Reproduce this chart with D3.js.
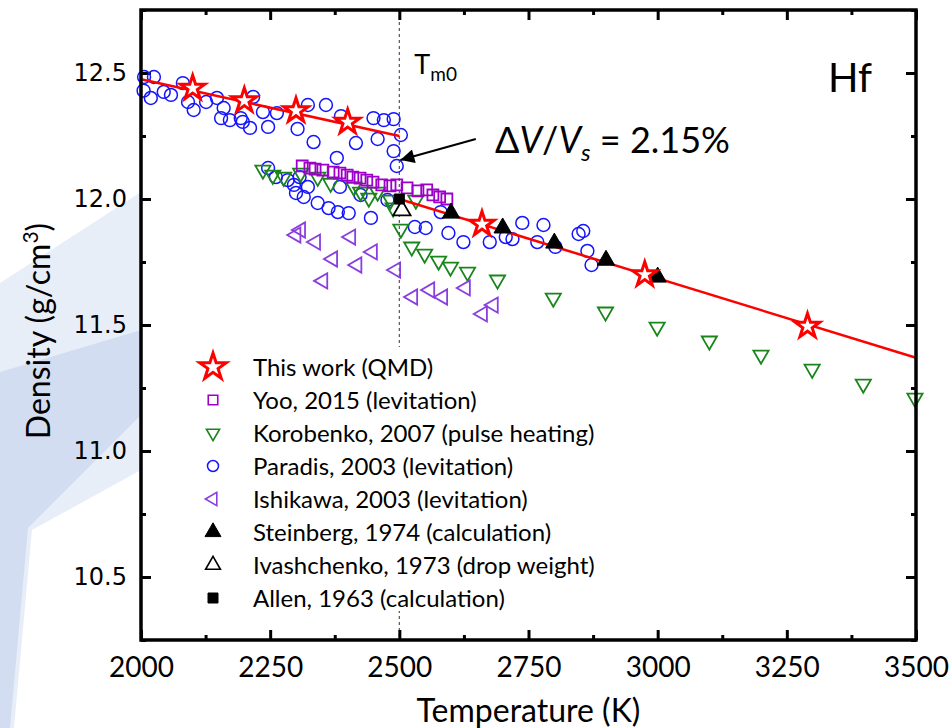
<!DOCTYPE html>
<html>
<head>
<meta charset="utf-8">
<script src="https://cdn.jsdelivr.net/npm/d3@7"></script>
<style>
  body { margin: 0; background: #fff; }
  svg { display: block; }
  .ytick text { font-family: "DejaVu Sans", sans-serif; font-size: 24px; }
  .xtick text { font-family: Lato, "Open Sans", sans-serif; font-size: 28px; }
  .lbl { font-family: Lato, "Open Sans", sans-serif; fill: #000; }
</style>
</head>
<body>
<div id="chart"></div>
<script>
// ---- data (T in K, density in g/cm3) ----
var qmdStars = [[2100, 12.44], [2200, 12.39], [2300, 12.35], [2400, 12.305],
                [2660, 11.90], [2975, 11.70], [3290, 11.495]];
var fitSolid = [[2000, 12.475], [2500, 12.25]];
var fitLiquid = [[2500, 12.0], [3500, 11.37]];

var yoo = [[2312, 12.131], [2327, 12.123], [2337, 12.119], [2352, 12.115], [2372, 12.107],
           [2385, 12.103], [2399, 12.095], [2410, 12.087], [2424, 12.083], [2437, 12.075],
           [2449, 12.067], [2466, 12.056], [2482, 12.052], [2495, 12.056], [2515, 12.044],
           [2536, 12.032], [2553, 12.036], [2565, 12.016], [2578, 12.008], [2592, 12.0]];

var korobenko = [[2236, 12.115], [2255, 12.095], [2276, 12.087], [2309, 12.103], [2342, 12.087],
                 [2367, 12.063], [2412, 12.048], [2425, 12.028], [2441, 12.004], [2458, 12.028],
                 [2483, 11.996], [2488, 11.965], [2532, 11.996], [2503, 11.881], [2524, 11.81],
                 [2549, 11.782], [2576, 11.754], [2599, 11.73], [2632, 11.71], [2690, 11.679],
                 [2798, 11.607], [2899, 11.552], [2999, 11.492], [3100, 11.437], [3200, 11.381],
                 [3299, 11.325], [3398, 11.266], [3498, 11.21]];

var paradis = [[2006, 12.484], [2025, 12.484], [2019, 12.401], [2005, 12.43], [2044, 12.425],
               [2058, 12.413], [2081, 12.46], [2091, 12.385], [2102, 12.353], [2126, 12.385],
               [2147, 12.401], [2160, 12.361], [2155, 12.321], [2172, 12.313], [2193, 12.321],
               [2197, 12.306], [2211, 12.282], [2217, 12.405], [2236, 12.345], [2246, 12.286],
               [2263, 12.341], [2303, 12.278], [2323, 12.373], [2334, 12.226], [2358, 12.373],
               [2387, 12.329], [2416, 12.222], [2450, 12.321], [2470, 12.313], [2489, 12.317],
               [2458, 12.238], [2489, 12.19], [2495, 12.131], [2503, 12.254], [2379, 12.163],
               [2246, 12.123], [2261, 12.087], [2284, 12.075], [2296, 12.056], [2307, 12.087],
               [2323, 12.048], [2300, 12.024], [2315, 12.008], [2342, 11.984], [2363, 11.964],
               [2381, 11.948], [2402, 11.944], [2445, 11.925], [2385, 12.048], [2425, 12.016],
               [2477, 11.996], [2530, 11.889], [2551, 11.885], [2595, 11.865], [2580, 11.948],
               [2624, 11.829], [2675, 11.829], [2706, 11.849], [2719, 11.841], [2738, 11.905],
               [2767, 11.829], [2779, 11.897], [2802, 11.81], [2847, 11.861], [2856, 11.873],
               [2864, 11.794], [2872, 11.738]];

var ishikawa = [[2309, 11.877], [2300, 11.857], [2338, 11.829], [2406, 11.849], [2371, 11.762],
                [2418, 11.738], [2448, 11.79], [2352, 11.675], [2493, 11.718], [2526, 11.611],
                [2559, 11.639], [2584, 11.611], [2628, 11.647], [2682, 11.579], [2661, 11.544]];

var steinberg = [[2600, 11.944], [2700, 11.885], [2800, 11.825], [2900, 11.757], [3000, 11.69]];
var ivashchenko = [[2505, 11.955]];
var allen = [[2500, 12.0]];

var xMajor = [2000, 2250, 2500, 2750, 3000, 3250, 3500];
var xMinor = [2125, 2375, 2625, 2875, 3125, 3375];
var yMajor = [10.5, 11.0, 11.5, 12.0, 12.5];
var yMinor = [10.25, 10.75, 11.25, 11.75, 12.25, 12.75];

var legendLabels = ["This work (QMD)", "Yoo, 2015 (levitation)", "Korobenko, 2007 (pulse heating)",
                    "Paradis, 2003 (levitation)", "Ishikawa, 2003 (levitation)",
                    "Steinberg, 1974 (calculation)", "Ivashchenko, 1973 (drop weight)",
                    "Allen, 1963 (calculation)"];

var tMelt = 2500;

// ---- layout ----
var W = 951, H = 728;
var margin = {top: 10, right: 35, bottom: 88, left: 141};

var svg = d3.select("#chart").append("svg")
    .attr("width", W)
    .attr("height", H);

// slide background decoration at the left
svg.append("polygon")
    .attr("points", "0,283 141,192 141,470 32,530 14,728 0,728")
    .attr("fill", "#e8eef8");
svg.append("polygon")
    .attr("points", "0,372 141,330 141,415 28,528 10,728 0,728")
    .attr("fill", "#d2ddf1");

var x = d3.scaleLinear().domain([2000, 3500]).range([margin.left, W - margin.right]);
var y = d3.scaleLinear().domain([10.25, 12.75]).range([H - margin.bottom, margin.top]);

// plot area
svg.append("rect")
    .attr("x", x(2000)).attr("y", y(12.75))
    .attr("width", x(3500) - x(2000)).attr("height", y(10.25) - y(12.75))
    .attr("fill", "#fff");

// dashed melting line
svg.append("line")
    .attr("x1", x(tMelt)).attr("x2", x(tMelt))
    .attr("y1", y(12.75)).attr("y2", y(10.25))
    .attr("stroke", "#555").attr("stroke-width", 1.2)
    .attr("stroke-dasharray", "3,3");

// ---- axes (ticks inward, mirrored) ----
function noText(g) { g.selectAll("text").remove(); }
function noDomain(g) { g.select(".domain").remove(); }

svg.append("g").attr("class", "xtick")
    .attr("transform", "translate(0," + y(10.25) + ")")
    .call(d3.axisBottom(x).tickValues(xMajor).tickFormat(d3.format("d"))
      .tickSizeInner(-10).tickSizeOuter(0).tickPadding(17))
    .call(noDomain);
svg.append("g")
    .attr("transform", "translate(0," + y(10.25) + ")")
    .call(d3.axisBottom(x).tickValues(xMinor).tickSizeInner(-5).tickSizeOuter(0))
    .call(noText).call(noDomain);
svg.append("g")
    .attr("transform", "translate(0," + y(12.75) + ")")
    .call(d3.axisTop(x).tickValues(xMajor).tickSizeInner(-10).tickSizeOuter(0))
    .call(noText).call(noDomain);
svg.append("g")
    .attr("transform", "translate(0," + y(12.75) + ")")
    .call(d3.axisTop(x).tickValues(xMinor).tickSizeInner(-5).tickSizeOuter(0))
    .call(noText).call(noDomain);

svg.append("g").attr("class", "ytick")
    .attr("transform", "translate(" + x(2000) + ",0)")
    .call(d3.axisLeft(y).tickValues(yMajor).tickFormat(d3.format(".1f"))
      .tickSizeInner(-10).tickSizeOuter(0).tickPadding(14))
    .call(noDomain);
svg.append("g")
    .attr("transform", "translate(" + x(2000) + ",0)")
    .call(d3.axisLeft(y).tickValues(yMinor).tickSizeInner(-5).tickSizeOuter(0))
    .call(noText).call(noDomain);
svg.append("g")
    .attr("transform", "translate(" + x(3500) + ",0)")
    .call(d3.axisRight(y).tickValues(yMajor).tickSizeInner(-10).tickSizeOuter(0))
    .call(noText).call(noDomain);
svg.append("g")
    .attr("transform", "translate(" + x(3500) + ",0)")
    .call(d3.axisRight(y).tickValues(yMinor).tickSizeInner(-5).tickSizeOuter(0))
    .call(noText).call(noDomain);

svg.selectAll(".tick line").attr("stroke", "#000").attr("stroke-width", 3);

// ---- markers ----
var plot = svg.append("g");

function draw(data, shape, size, rot, stroke, fill, sw) {
  plot.append("g").selectAll("path")
    .data(data)
    .join("path")
      .attr("d", d3.symbol().type(shape).size(size))
      .attr("transform", function(d) {
        return "translate(" + x(d[0]) + "," + y(d[1]) + ") rotate(" + rot + ")";
      })
      .attr("fill", fill)
      .attr("stroke", stroke)
      .attr("stroke-width", sw);
}

draw(paradis, d3.symbolCircle, 130, 0, "#1414ff", "none", 1.5);
draw(korobenko, d3.symbolTriangle, 100, 180, "#1a851a", "none", 1.8);
draw(ishikawa, d3.symbolTriangle, 100, -90, "#8a3ee0", "none", 1.8);
draw(yoo, d3.symbolSquare, 120, 0, "#9d00c9", "none", 1.8);

var line = d3.line().x(function(d) { return x(d[0]); }).y(function(d) { return y(d[1]); });
[fitSolid, fitLiquid].forEach(function(seg) {
  plot.append("path").datum(seg)
    .attr("d", line)
    .attr("fill", "none").attr("stroke", "#ff0000").attr("stroke-width", 2.5);
});

draw(steinberg, d3.symbolTriangle, 130, 0, "#000", "#000", 1);
draw(ivashchenko, d3.symbolTriangle, 130, 0, "#000", "#fff", 1.8);
draw(allen, d3.symbolSquare, 100, 0, "#000", "#000", 1);
draw(qmdStars, d3.symbolStar, 185, 0, "#ff0000", "#fff", 3);

// frame
svg.append("rect")
    .attr("x", x(2000)).attr("y", y(12.75))
    .attr("width", x(3500) - x(2000)).attr("height", y(10.25) - y(12.75))
    .attr("fill", "none").attr("stroke", "#000").attr("stroke-width", 3.5);

// ---- legend ----
var legendStyles = [
  {shape: d3.symbolStar, size: 220, rot: 0, stroke: "#ff0000", fill: "#fff", sw: 3},
  {shape: d3.symbolSquare, size: 90, rot: 0, stroke: "#9d00c9", fill: "none", sw: 1.6},
  {shape: d3.symbolTriangle, size: 75, rot: 180, stroke: "#1a851a", fill: "none", sw: 1.6},
  {shape: d3.symbolCircle, size: 95, rot: 0, stroke: "#1414ff", fill: "none", sw: 1.5},
  {shape: d3.symbolTriangle, size: 75, rot: -90, stroke: "#8a3ee0", fill: "none", sw: 1.6},
  {shape: d3.symbolTriangle, size: 110, rot: 0, stroke: "#000", fill: "#000", sw: 1},
  {shape: d3.symbolTriangle, size: 95, rot: 0, stroke: "#000", fill: "#fff", sw: 1.6},
  {shape: d3.symbolSquare, size: 100, rot: 0, stroke: "#000", fill: "#000", sw: 1}
];

var legend = svg.append("g").attr("transform", "translate(213,367)");
legend.append("rect")
    .attr("x", 25).attr("y", -20).attr("width", 410).attr("height", 264)
    .attr("fill", "#fff");
var rows = legend.selectAll("g.row")
    .data(legendLabels)
    .join("g")
      .attr("class", "row")
      .attr("transform", function(d, i) { return "translate(0," + (i * 33) + ")"; });
rows.append("path")
    .attr("d", function(d, i) { return d3.symbol().type(legendStyles[i].shape).size(legendStyles[i].size)(); })
    .attr("transform", function(d, i) { return "rotate(" + legendStyles[i].rot + ")"; })
    .attr("fill", function(d, i) { return legendStyles[i].fill; })
    .attr("stroke", function(d, i) { return legendStyles[i].stroke; })
    .attr("stroke-width", function(d, i) { return legendStyles[i].sw; });
rows.append("text")
    .attr("class", "lbl")
    .attr("x", 40).attr("dy", "0.36em")
    .attr("font-size", 24)
    .text(function(d) { return d; });

// ---- annotations ----
var tm = svg.append("text").attr("class", "lbl")
    .attr("x", x(tMelt) + 15).attr("y", 74).attr("font-size", 27);
tm.append("tspan").text("T");
tm.append("tspan").attr("font-size", 19).attr("dy", 7).text("m0");

svg.append("text").attr("class", "lbl")
    .attr("x", 828).attr("y", 92).attr("font-size", 40).text("Hf");

var dv = svg.append("text").attr("class", "lbl")
    .attr("x", 495).attr("y", 153).attr("font-size", 36);
dv.append("tspan").text("\u0394");
dv.append("tspan").attr("font-style", "italic").text("V");
dv.append("tspan").text("/");
dv.append("tspan").attr("font-style", "italic").text("V");
dv.append("tspan").attr("font-style", "italic").attr("font-size", 24).attr("dy", 8).text("s");
dv.append("tspan").attr("dy", -8).text(" = 2.15%");

svg.append("defs").append("marker")
    .attr("id", "arrow").attr("viewBox", "0 0 10 10")
    .attr("refX", 10).attr("refY", 5)
    .attr("markerWidth", 8).attr("markerHeight", 7)
    .attr("markerUnits", "strokeWidth")
    .attr("orient", "auto")
  .append("path").attr("d", "M0,0 L10,5 L0,10 Z").attr("fill", "#000");

svg.append("line")
    .attr("x1", x(2648)).attr("y1", y(12.238))
    .attr("x2", x(2502)).attr("y2", y(12.155))
    .attr("stroke", "#000").attr("stroke-width", 2)
    .attr("marker-end", "url(#arrow)");

// ---- axis titles ----
svg.append("text").attr("class", "lbl")
    .attr("x", (x(2000) + x(3500)) / 2).attr("y", 722)
    .attr("text-anchor", "middle").attr("font-size", 32)
    .text("Temperature (K)");

var yt = svg.append("text").attr("class", "lbl")
    .attr("transform", "translate(50," + 331 + ") rotate(-90)")
    .attr("text-anchor", "middle").attr("font-size", 32);
yt.append("tspan").text("Density (g/cm");
yt.append("tspan").attr("font-size", 21).attr("dy", -12).text("3");
yt.append("tspan").attr("dy", 12).text(")");
</script>
</body>
</html>
